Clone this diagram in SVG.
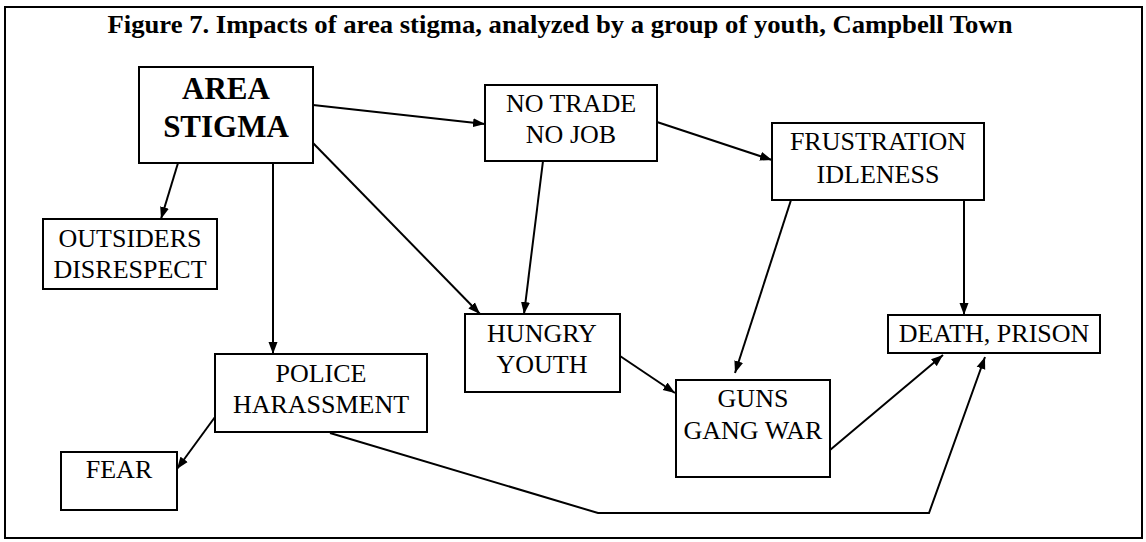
<svg xmlns="http://www.w3.org/2000/svg" width="1146" height="542" viewBox="0 0 1146 542">
<style>
.box{fill:#fff;stroke:#000;stroke-width:2}
.t{font-family:"Liberation Serif","Times New Roman",serif;font-size:26px;fill:#000;text-anchor:middle}
.b{font-weight:bold}
.big{font-size:31px}
.c{fill:none;stroke:#000;stroke-width:2}
</style>
<defs>
<marker id="ah" markerUnits="userSpaceOnUse" markerWidth="13" markerHeight="10" refX="12" refY="5" orient="auto">
<path d="M0,0.5 L12,5 L0,9.5 z" fill="#000"/>
</marker>
</defs>
<rect x="0" y="0" width="1146" height="542" fill="#fff"/>
<rect x="5" y="7" width="1137" height="531" fill="none" stroke="#000" stroke-width="2"/>
<text class="t b" x="560" y="33" textLength="905" lengthAdjust="spacingAndGlyphs">Figure 7. Impacts of area stigma, analyzed by a group of youth, Campbell Town</text>

<g id="connectors">
<line class="c" x1="313" y1="105" x2="485" y2="124" marker-end="url(#ah)"/>
<line class="c" x1="178" y1="163" x2="161" y2="219" marker-end="url(#ah)"/>
<line class="c" x1="273" y1="163" x2="273" y2="354" marker-end="url(#ah)"/>
<line class="c" x1="313" y1="143" x2="480" y2="314" marker-end="url(#ah)"/>
<line class="c" x1="543" y1="161" x2="524" y2="314" marker-end="url(#ah)"/>
<line class="c" x1="657" y1="122" x2="772" y2="160" marker-end="url(#ah)"/>
<line class="c" x1="964" y1="200" x2="964" y2="315" marker-end="url(#ah)"/>
<line class="c" x1="791" y1="200" x2="735" y2="373" marker-end="url(#ah)"/>
<line class="c" x1="620" y1="356" x2="675" y2="393" marker-end="url(#ah)"/>
<line class="c" x1="830" y1="450" x2="943" y2="355" marker-end="url(#ah)"/>
<line class="c" x1="215" y1="417" x2="177" y2="469" marker-end="url(#ah)"/>
<polyline class="c" points="330,433 598,513 929,513 985,357" marker-end="url(#ah)"/>
</g>

<g id="area-stigma">
<rect class="box" x="139" y="67" width="174" height="96"/>
<text class="t b big" x="226" y="99">AREA</text>
<text class="t b big" x="226" y="137">STIGMA</text>
</g>
<g id="no-trade">
<rect class="box" x="485" y="85" width="172" height="76"/>
<text class="t" x="571" y="112">NO TRADE</text>
<text class="t" x="571" y="143">NO JOB</text>
</g>
<g id="frustration">
<rect class="box" x="772" y="123" width="212" height="77"/>
<text class="t" x="878" y="150">FRUSTRATION</text>
<text class="t" x="878" y="183">IDLENESS</text>
</g>
<g id="outsiders">
<rect class="box" x="43" y="219" width="174" height="70"/>
<text class="t" x="130" y="247">OUTSIDERS</text>
<text class="t" x="130" y="278">DISRESPECT</text>
</g>
<g id="police">
<rect class="box" x="215" y="354" width="212" height="78"/>
<text class="t" x="321" y="382">POLICE</text>
<text class="t" x="321" y="413">HARASSMENT</text>
</g>
<g id="fear">
<rect class="box" x="61" y="452" width="116" height="58"/>
<text class="t" x="119" y="478">FEAR</text>
</g>
<g id="hungry">
<rect class="box" x="465" y="314" width="155" height="78"/>
<text class="t" x="542" y="342">HUNGRY</text>
<text class="t" x="542" y="373">YOUTH</text>
</g>
<g id="guns">
<rect class="box" x="676" y="380" width="154" height="97"/>
<text class="t" x="753" y="407">GUNS</text>
<text class="t" x="753" y="439">GANG WAR</text>
</g>
<g id="death">
<rect class="box" x="888" y="315" width="212" height="38"/>
<text class="t" x="994" y="342">DEATH, PRISON</text>
</g>
</svg>
